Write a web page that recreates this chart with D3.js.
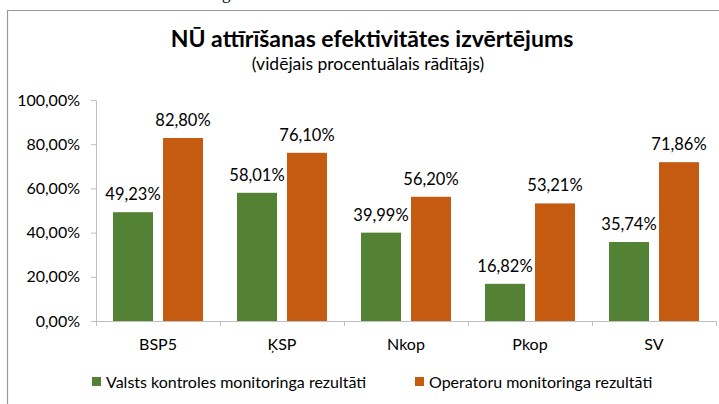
<!DOCTYPE html>
<html>
<head>
<meta charset="utf-8">
<script src="https://cdn.jsdelivr.net/npm/d3@7"></script>
<style>
  html, body { margin: 0; padding: 0; background: #fff; }
  svg { display: block; }
  text { font-family: Lato, "Noto Sans", sans-serif; }
</style>
</head>
<body>
<svg id="chart" width="719" height="404"></svg>
<script>
const categories = ["BSP5", "ĶSP", "Nkop", "Pkop", "SV"];
const seriesNames = ["Valsts kontroles monitoringa rezultāti", "Operatoru monitoringa rezultāti"];
const valstsValues = [0.4923, 0.5801, 0.3999, 0.1682, 0.3574];
const operatoruValues = [0.8280, 0.7610, 0.5620, 0.5321, 0.7186];
const yTicks = [0, 0.2, 0.4, 0.6, 0.8, 1.0];
const titleText = "NŪ attīrīšanas efektivitātes izvērtējums";
const subtitleText = "(vidējais procentuālais rādītājs)";
const colors = ["#548235", "#C55A11"];

const svg = d3.select("#chart");
const fmt = v => d3.format(".2f")(v * 100).replace(".", ",") + "%";

// page fragment + frame
svg.append("text").attr("x", 222).attr("y", -1)
  .style("font-family", "'Liberation Serif', serif").style("font-size", "17px")
  .attr("fill", "#000").text("g");
svg.append("line").attr("x1", 7).attr("x2", 719).attr("y1", 10.5).attr("y2", 10.5)
  .attr("stroke", "#999").attr("stroke-width", 1.2);
svg.append("line").attr("x1", 7.5).attr("x2", 7.5).attr("y1", 10).attr("y2", 404)
  .attr("stroke", "#999").attr("stroke-width", 1.2);

// titles
svg.append("text").attr("x", 372).attr("y", 47).attr("text-anchor", "middle")
  .style("font-size", "23px").style("font-weight", "bold").attr("fill", "#000").text(titleText);
svg.append("text").attr("x", 368).attr("y", 70).attr("text-anchor", "middle")
  .style("font-size", "17.5px").attr("fill", "#000").text(subtitleText);

const y = d3.scaleLinear().domain([0, 1]).range([321, 100]);
const x0 = d3.scaleBand().domain(categories).range([96, 716]).paddingInner(0).paddingOuter(0);
const x1 = d3.scaleBand().domain(seriesNames).range([0, x0.bandwidth()]).paddingInner(0.2).paddingOuter(0.34);

// y axis
const yAxis = svg.append("g").attr("transform", "translate(96,0)")
  .call(d3.axisLeft(y).tickValues(yTicks).tickFormat(fmt).tickSize(5).tickSizeOuter(0).tickPadding(11));
yAxis.select(".domain").attr("stroke", "#bfbfbf");
yAxis.selectAll(".tick line").attr("stroke", "#bfbfbf");
yAxis.selectAll(".tick text").style("font-size", "16px").style("font-family", "Lato, sans-serif").attr("fill", "#000");

// bars
const data = categories.map((c, i) => ({ c, vals: [valstsValues[i], operatoruValues[i]] }));
const groups = svg.append("g").selectAll("g").data(data).join("g")
  .attr("transform", d => `translate(${x0(d.c)},0)`);
groups.selectAll("rect").data(d => d.vals.map((v, j) => ({ s: seriesNames[j], v, j })))
  .join("rect")
  .attr("x", d => x1(d.s)).attr("width", x1.bandwidth())
  .attr("y", d => y(d.v)).attr("height", d => y(0) - y(d.v))
  .attr("fill", d => colors[d.j]);
groups.selectAll("text.val").data(d => d.vals.map((v, j) => ({ s: seriesNames[j], v, j })))
  .join("text").attr("class", "val")
  .attr("x", d => x1(d.s) + x1.bandwidth() / 2).attr("y", d => y(d.v) - 12)
  .attr("text-anchor", "middle").style("font-size", "16.5px").attr("fill", "#000")
  .text(d => fmt(d.v));

// x axis
const xAxis = svg.append("g").attr("transform", `translate(0,${y(0)})`)
  .call(d3.axisBottom(x0).tickSize(0).tickPadding(18));
xAxis.select(".domain").attr("stroke", "#bfbfbf");
xAxis.selectAll(".tick text").style("font-size", "16px").style("font-family", "Lato, sans-serif").attr("fill", "#000");
const bounds = categories.map(c => x0(c)).concat([x0.range()[1]]);
svg.append("g").selectAll("line").data(bounds).join("line")
  .attr("x1", d => d + 0.5).attr("x2", d => d + 0.5)
  .attr("y1", y(0)).attr("y2", y(0) + 5).attr("stroke", "#bfbfbf");

// legend
const legendX = [92, 415];
const leg = svg.append("g").selectAll("g").data(seriesNames).join("g")
  .attr("transform", (d, i) => `translate(${legendX[i]},377)`);
leg.append("rect").attr("width", 9).attr("height", 9).attr("fill", (d, i) => colors[i]);
leg.append("text").attr("x", 14).attr("y", 11).style("font-size", "16px").attr("fill", "#000").text(d => d);
</script>
</body>
</html>
